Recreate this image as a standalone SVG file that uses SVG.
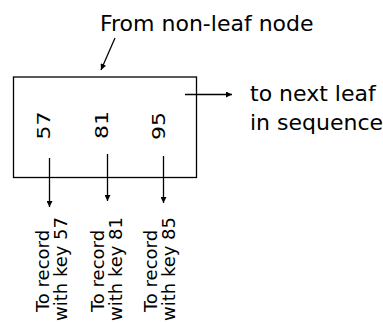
<svg xmlns="http://www.w3.org/2000/svg" width="383" height="324" viewBox="0 0 383 324">
  <style>
    text { font-family: "DejaVu Sans", "Liberation Sans", sans-serif; fill: #000; }
    .lbl { font-size: 22px; }
    .key { font-size: 18px; }
    .rec { font-size: 18px; text-anchor: middle; }
    .wire { stroke: #000; stroke-width: 1.3; fill: none; }
  </style>
  <defs>
    <marker id="arrow" viewBox="0 0 10 10" refX="10" refY="5" markerWidth="7" markerHeight="6" markerUnits="userSpaceOnUse" orient="auto">
      <path d="M0,0 L10,5 L0,10 z" fill="#000"/>
    </marker>
  </defs>

  <!-- leaf node with its three keys -->
  <g id="leaf">
    <rect x="13.5" y="77" width="183" height="100.5" fill="#fff" stroke="#000" stroke-width="1.3"/>
    <text class="key" transform="translate(49.5,139.5) rotate(-90)" textLength="28" lengthAdjust="spacingAndGlyphs">57</text>
    <text class="key" transform="translate(108,139) rotate(-90)" textLength="28" lengthAdjust="spacingAndGlyphs">81</text>
    <text class="key" transform="translate(164.5,140) rotate(-90)" textLength="28" lengthAdjust="spacingAndGlyphs">95</text>
  </g>

  <g id="parent-label">
    <text class="lbl" x="100" y="31">From non-leaf node</text>
  </g>

  <g id="next-label">
    <text class="lbl" x="250" y="101">to next leaf</text>
    <text class="lbl" x="250" y="130">in sequence</text>
  </g>

  <g id="record-57">
    <text class="rec" transform="translate(48.5,271) rotate(-90)">To record</text>
    <text class="rec" transform="translate(66.5,269) rotate(-90)">with key 57</text>
  </g>
  <g id="record-81">
    <text class="rec" transform="translate(104,271) rotate(-90)">To record</text>
    <text class="rec" transform="translate(122,269) rotate(-90)">with key 81</text>
  </g>
  <g id="record-85">
    <text class="rec" transform="translate(156.5,271) rotate(-90)">To record</text>
    <text class="rec" transform="translate(174.5,269) rotate(-90)">with key 85</text>
  </g>

  <!-- connectors -->
  <g id="connectors">
    <line class="wire" x1="115" y1="38" x2="101" y2="70" marker-end="url(#arrow)"/>
    <line class="wire" x1="185" y1="94.5" x2="232" y2="94.5" marker-end="url(#arrow)"/>
    <line class="wire" x1="49.5" y1="158" x2="49.5" y2="207" marker-end="url(#arrow)"/>
    <line class="wire" x1="107.5" y1="154" x2="107.5" y2="201" marker-end="url(#arrow)"/>
    <line class="wire" x1="163.5" y1="156" x2="163.5" y2="203" marker-end="url(#arrow)"/>
  </g>
</svg>
